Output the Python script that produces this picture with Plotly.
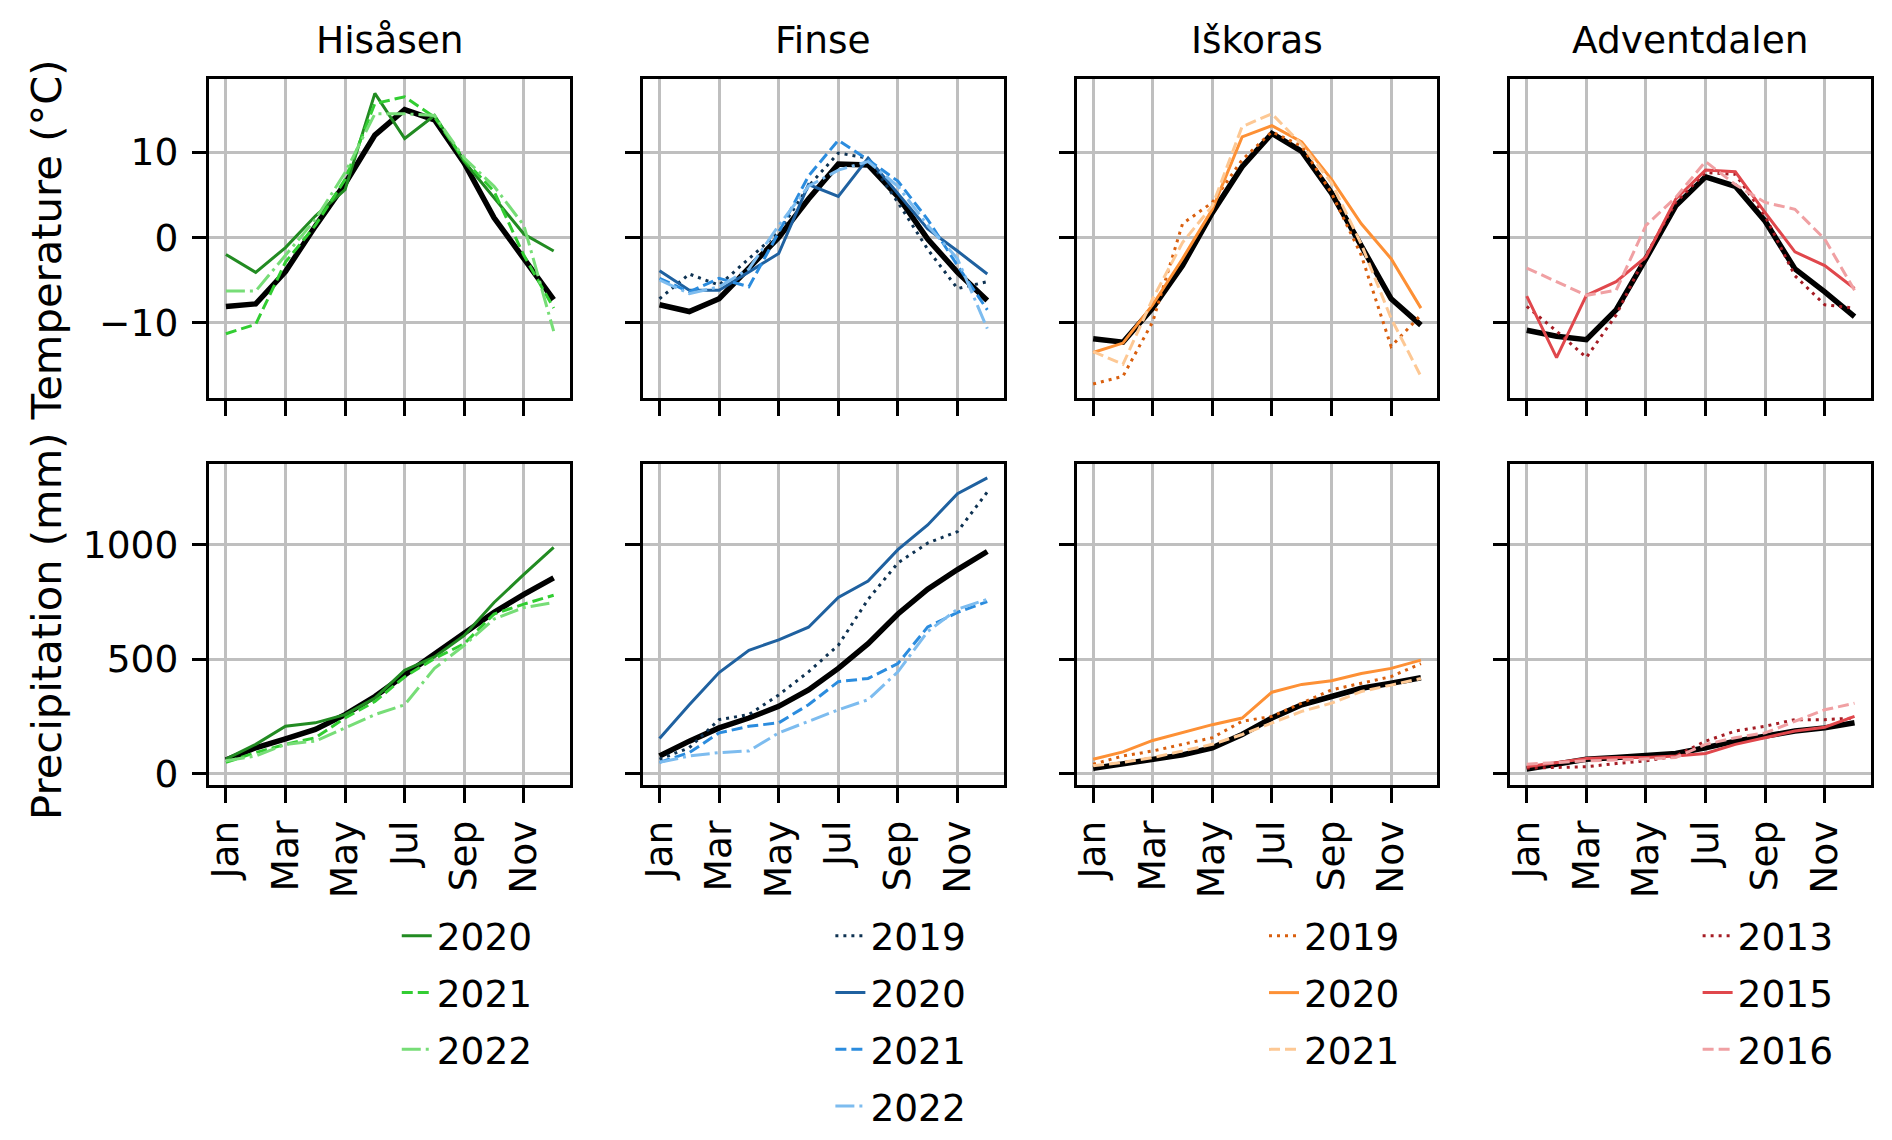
import plotly.graph_objects as go

FONT = "DejaVu Sans"
FS = 37.5
FS_LABEL = 41.7

# ---------------- data ----------------
months = list(range(1, 13))
tick_months = [1, 3, 5, 7, 9, 11]
tick_month_labels = ["Jan", "Mar", "May", "Jul", "Sep", "Nov"]

stations = ["Hisåsen", "Finse", "Iškoras", "Adventdalen"]

# Hisåsen
his_years = ["2020", "2021", "2022"]
his_t_mean = [-8.1, -7.8, -4.0, 1.3, 6.3, 12.0, 15.0, 13.8, 8.7, 2.3, -2.5, -7.3]
his_t_2020 = [-2.0, -4.1, -1.2, 2.5, 5.6, 16.9, 11.6, 14.3, 8.9, 4.7, 0.4, -1.6]
his_t_2021 = [-11.3, -10.2, -2.9, 1.4, 6.8, 15.7, 16.5, 14.1, 9.1, 5.4, -2.1, -8.3]
his_t_2022 = [-6.3, -6.3, -2.1, 2.1, 7.6, 14.5, 14.5, 14.3, 9.3, 6.0, 1.4, -11.0]
his_p_mean = [58, 112, 151, 192, 257, 336, 430, 523, 610, 704, 783, 855]
his_p_2020 = [62, 127, 206, 221, 257, 329, 451, 509, 603, 747, 870, 988]
his_p_2021 = [48, 91, 127, 156, 242, 314, 422, 502, 567, 697, 740, 779]
his_p_2022 = [55, 76, 127, 141, 199, 257, 300, 459, 560, 675, 725, 747]

# Finse
fin_years = ["2019", "2020", "2021", "2022"]
fin_t_mean = [-7.9, -8.7, -7.2, -3.7, 0.0, 4.5, 8.6, 8.5, 4.8, -0.2, -4.1, -7.4]
fin_t_2019 = [-7.2, -4.3, -5.6, -2.5, 0.6, 6.0, 9.9, 9.3, 4.1, -1.4, -6.0, -5.2]
fin_t_2020 = [-3.9, -6.2, -6.2, -4.1, -1.9, 6.2, 4.8, 9.3, 5.2, 1.0, -1.6, -4.3]
fin_t_2021 = [-4.8, -6.4, -4.8, -5.8, 0.6, 7.2, 11.4, 9.1, 6.6, 2.1, -3.3, -8.5]
fin_t_2022 = [-5.0, -6.6, -5.8, -3.7, 1.4, 6.0, 7.9, 8.9, 6.0, 1.4, -2.5, -10.7]
fin_p_mean = [76, 141, 199, 242, 293, 365, 459, 567, 697, 805, 891, 970]
fin_p_2019 = [62, 112, 235, 257, 343, 444, 560, 761, 920, 1007, 1057, 1230]
fin_p_2020 = [153, 300, 441, 538, 584, 639, 769, 841, 978, 1086, 1223, 1292]
fin_p_2021 = [48, 91, 177, 206, 221, 300, 401, 415, 480, 640, 704, 751]
fin_p_2022 = [48, 76, 91, 98, 177, 228, 278, 322, 444, 620, 718, 761]

# Iškoras
isk_years = ["2019", "2020", "2021"]
isk_t_mean = [-11.9, -12.3, -8.3, -3.3, 2.9, 8.3, 12.2, 10.1, 5.2, -1.0, -7.2, -10.3]
isk_t_2019 = [-17.2, -16.3, -9.9, 1.6, 4.1, 9.1, 12.4, 10.7, 5.2, -2.1, -12.8, -9.1]
isk_t_2020 = [-13.5, -12.4, -7.9, -2.5, 3.3, 11.8, 13.1, 11.2, 6.8, 1.6, -2.5, -8.3]
isk_t_2021 = [-13.4, -14.9, -7.2, -0.6, 3.7, 13.0, 14.5, 10.9, 6.4, -0.8, -9.5, -16.3]
isk_p_mean = [22, 40, 58, 81, 112, 170, 242, 300, 336, 372, 394, 418]
isk_p_2019 = [40, 76, 98, 127, 156, 228, 249, 307, 365, 394, 423, 480]
isk_p_2020 = [62, 94, 144, 180, 213, 242, 355, 389, 405, 437, 459, 495]
isk_p_2021 = [33, 48, 69, 98, 127, 170, 221, 271, 307, 358, 386, 415]

# Adventdalen
adv_years = ["2013", "2015", "2016"]
adv_t_mean = [-10.9, -11.6, -12.0, -8.5, -2.5, 3.7, 7.1, 6.0, 1.9, -3.7, -6.4, -9.3]
adv_t_2013 = [-8.1, -11.0, -14.1, -9.1, -2.1, 4.1, 7.6, 7.4, 2.5, -4.5, -7.9, -8.3]
adv_t_2015 = [-6.9, -14.1, -6.8, -5.2, -2.3, 4.5, 7.9, 7.7, 2.9, -1.7, -3.3, -6.0]
adv_t_2016 = [-3.6, -5.2, -6.8, -6.2, 1.4, 4.7, 8.9, 6.2, 4.1, 3.3, -0.2, -6.2]
adv_p_mean = [19, 40, 62, 69, 76, 87, 112, 141, 163, 185, 199, 221]
adv_p_2013 = [23, 26, 29, 43, 55, 76, 141, 185, 206, 235, 235, 242]
adv_p_2015 = [29, 48, 65, 69, 69, 76, 87, 127, 156, 185, 202, 249]
adv_p_2016 = [40, 48, 55, 58, 62, 69, 127, 156, 177, 228, 278, 307]

temp_ticks = [-10, 0, 10]
precip_ticks = [0, 500, 1000]

# ---------------- styles ----------------
DOT = "3px,5px"
DASH = "11px,5px"
DASHDOT = "19px,5px,3px,5px"

panels = [
    dict(years=his_years, t_mean=his_t_mean, t=[his_t_2020, his_t_2021, his_t_2022],
         p_mean=his_p_mean, p=[his_p_2020, his_p_2021, his_p_2022],
         colors=["#228b22", "#32cd32", "#77dd77"], dashes=["solid", DASH, DASHDOT]),
    dict(years=fin_years, t_mean=fin_t_mean, t=[fin_t_2019, fin_t_2020, fin_t_2021, fin_t_2022],
         p_mean=fin_p_mean, p=[fin_p_2019, fin_p_2020, fin_p_2021, fin_p_2022],
         colors=["#0e3252", "#1f61a0", "#2b8cde", "#7dbcef"], dashes=[DOT, "solid", DASH, DASHDOT]),
    dict(years=isk_years, t_mean=isk_t_mean, t=[isk_t_2019, isk_t_2020, isk_t_2021],
         p_mean=isk_p_mean, p=[isk_p_2019, isk_p_2020, isk_p_2021],
         colors=["#d95f0e", "#fd9035", "#fdc894"], dashes=[DOT, "solid", DASH]),
    dict(years=adv_years, t_mean=adv_t_mean, t=[adv_t_2013, adv_t_2015, adv_t_2016],
         p_mean=adv_p_mean, p=[adv_p_2013, adv_p_2015, adv_p_2016],
         colors=["#a51c24", "#e0474c", "#f0a0a3"], dashes=[DOT, "solid", DASH]),
]

W, H = 1892, 1140
col_left = [204, 639, 1074, 1509]
col_w = 362
row_top = [(80, 402), (468, 792)]

fig = go.Figure()
layout = {}
annotations = []

for c, pan in enumerate(panels):
    leg = "legend" if c == 0 else f"legend{c + 1}"
    for r in range(2):
        n = r * 4 + c + 1
        xa = "x" if n == 1 else f"x{n}"
        ya = "y" if n == 1 else f"y{n}"
        mean = pan["t_mean"] if r == 0 else pan["p_mean"]
        series = pan["t"] if r == 0 else pan["p"]
        fig.add_trace(go.Scatter(x=months, y=mean, mode="lines", xaxis=xa, yaxis=ya,
                                 line=dict(color="black", width=5.5), showlegend=False,
                                 hoverinfo="skip"))
        for yr, vals, col, dsh in zip(pan["years"], series, pan["colors"], pan["dashes"]):
            fig.add_trace(go.Scatter(x=months, y=vals, mode="lines", xaxis=xa, yaxis=ya,
                                     name=yr, legend=leg, legendgroup=f"{c}-{yr}",
                                     showlegend=(r == 0),
                                     line=dict(color=col, width=3, dash=dsh)))
        x0 = col_left[c] / W
        x1 = (col_left[c] + col_w) / W
        y0 = 1 - row_top[r][1] / H
        y1 = 1 - row_top[r][0] / H
        xkey = "xaxis" if n == 1 else f"xaxis{n}"
        ykey = "yaxis" if n == 1 else f"yaxis{n}"
        layout[xkey] = dict(domain=[x0, x1], anchor=ya, range=[0.445, 12.555],
                            tickmode="array", tickvals=tick_months, ticktext=tick_month_labels,
                            showticklabels=(r == 1), tickangle=-90, ticklabelstandoff=3,
                            ticks="outside", ticklen=14.6, tickwidth=3, tickcolor="black",
                            showline=True, mirror=True, linecolor="black", linewidth=3,
                            showgrid=True, gridcolor="#bfbfbf", gridwidth=3, zeroline=False,
                            tickfont=dict(family=FONT, size=FS, color="black"))
        if r == 0:
            yr_range = [-18.9, 18.55]
            tv = temp_ticks
        else:
            yr_range = [-51, 1353]
            tv = precip_ticks
        layout[ykey] = dict(domain=[y0, y1], anchor=xa, range=yr_range,
                            tickmode="array", tickvals=tv,
                            showticklabels=(c == 0), ticklabelstandoff=6,
                            ticks="outside", ticklen=14.6, tickwidth=3, tickcolor="black",
                            showline=True, mirror=True, linecolor="black", linewidth=3,
                            showgrid=True, gridcolor="#bfbfbf", gridwidth=3, zeroline=False,
                            tickfont=dict(family=FONT, size=FS, color="black"))
    # title
    annotations.append(dict(text=stations[c], xref="paper", yref="paper",
                            x=(col_left[c] + col_w / 2) / W, y=1 - 40 / H,
                            xanchor="center", yanchor="middle", showarrow=False,
                            font=dict(family=FONT, size=FS, color="black")))
    layout[leg] = dict(x=(col_left[c] + 188) / W, y=1 - 913 / H, xanchor="left", yanchor="top",
                       font=dict(family=FONT, size=FS, color="black"),
                       bgcolor="rgba(0,0,0,0)", borderwidth=0, tracegroupgap=5,
                       traceorder="grouped")

annotations.append(dict(text="Precipitation (mm) Temperature (°C)", xref="paper", yref="paper",
                        x=40 / W, y=1 - 443 / H, xanchor="center", yanchor="middle",
                        textangle=-90, showarrow=False,
                        font=dict(family=FONT, size=FS_LABEL, color="black")))

fig.update_layout(**layout)
fig.update_layout(width=W, height=H, margin=dict(l=0, r=0, t=0, b=0),
                  paper_bgcolor="white", plot_bgcolor="white",
                  font=dict(family=FONT, size=FS, color="black"),
                  annotations=annotations)

fig.write_html("out.html", config={"displayModeBar": False},
               post_script="document.body.style.margin='0';")
